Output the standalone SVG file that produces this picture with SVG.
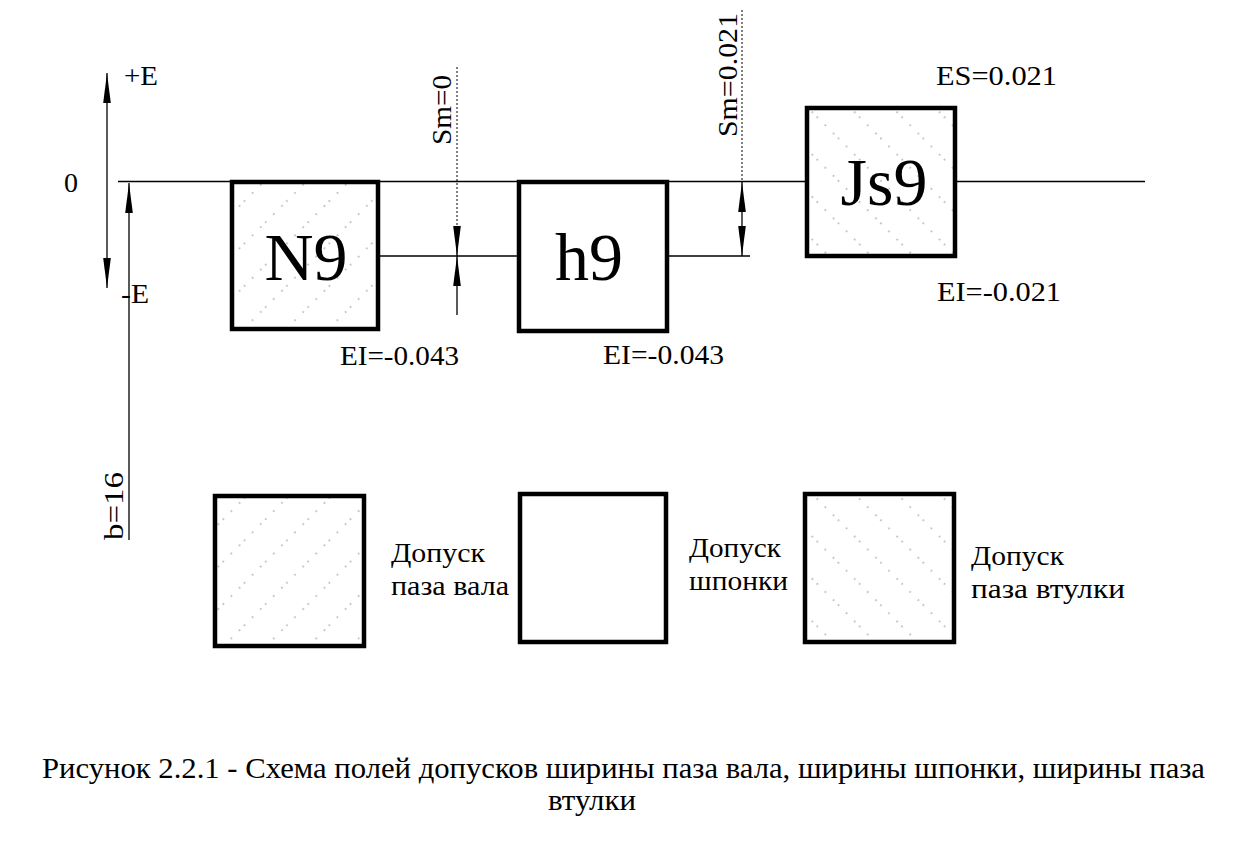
<svg xmlns="http://www.w3.org/2000/svg" width="1236" height="853" viewBox="0 0 1236 853" font-family="'Liberation Serif', 'Times New Roman', serif">
<defs>
<style>
.t{font-family:'Liberation Serif','Times New Roman',serif;fill:#000;font-size:28px}
.big{font-size:68px}
.cap{font-size:30px}
.ln{stroke:#000;stroke-width:1.3;fill:none}
.dot{stroke:#000;stroke-width:1;fill:none;stroke-dasharray:2,2}
.box{stroke:#000;stroke-width:4.5}
</style>
<marker id="arr" viewBox="0 0 30 10" refX="30" refY="5" markerWidth="30" markerHeight="10" orient="auto-start-reverse" markerUnits="userSpaceOnUse">
<path d="M0,1.2 L30,5 L0,8.8 z" fill="#000"/>
</marker>
<pattern id="hatchR" patternUnits="userSpaceOnUse" width="30" height="30" patternTransform="rotate(-45)">
<rect width="30" height="30" fill="#fff"/>
<line x1="0" y1="15" x2="30" y2="15" stroke="#777" stroke-width="1" stroke-dasharray="1.5,10"/>
</pattern>
<pattern id="hatchL" patternUnits="userSpaceOnUse" width="30" height="30" patternTransform="rotate(45)">
<rect width="30" height="30" fill="#fff"/>
<line x1="0" y1="15" x2="30" y2="15" stroke="#777" stroke-width="1" stroke-dasharray="1.5,10"/>
</pattern>
</defs>
<rect width="1236" height="853" fill="#fff"/>

<g id="connectors">
<line class="ln" x1="118" y1="181.5" x2="1145" y2="181.5"/>
<line class="ln" x1="379" y1="256" x2="518" y2="256"/>
<line class="ln" x1="668" y1="256" x2="750" y2="256"/>
<line class="ln" x1="107" y1="73" x2="107" y2="288" marker-start="url(#arr)" marker-end="url(#arr)"/>
<line class="ln" x1="129" y1="540" x2="129" y2="183" marker-end="url(#arr)"/>
<line class="dot" x1="457" y1="67" x2="457" y2="228"/>
<line class="ln" x1="457" y1="226" x2="457" y2="256" marker-end="url(#arr)"/>
<line class="ln" x1="457" y1="315" x2="457" y2="256" marker-end="url(#arr)"/>
<line class="dot" x1="742" y1="10" x2="742" y2="182"/>
<line class="ln" x1="742" y1="182" x2="742" y2="256" marker-start="url(#arr)" marker-end="url(#arr)"/>
</g>

<g id="axis-labels">
<text class="t" x="124" y="85" font-size="24" textLength="34" lengthAdjust="spacingAndGlyphs">+E</text>
<text class="t" x="64" y="192" font-size="25">0</text>
<text class="t" x="121" y="303" font-size="24" textLength="28" lengthAdjust="spacingAndGlyphs">-E</text>
<text class="t" transform="translate(123,540) rotate(-90)" textLength="68" lengthAdjust="spacingAndGlyphs">b=16</text>
<text class="t" transform="translate(451,145) rotate(-90)" textLength="70" lengthAdjust="spacingAndGlyphs">Sm=0</text>
<text class="t" transform="translate(737,137) rotate(-90)" textLength="124" lengthAdjust="spacingAndGlyphs">Sm=0.021</text>
</g>

<g id="N9">
<rect class="box" x="232" y="182" width="146" height="147" fill="url(#hatchR)"/>
<text class="t big" x="306" y="280" text-anchor="middle">N9</text>
<text class="t" x="340" y="365" textLength="119" lengthAdjust="spacingAndGlyphs">EI=-0.043</text>
</g>

<g id="h9">
<rect class="box" x="519" y="182" width="148" height="149" fill="#fff"/>
<text class="t big" x="589" y="280" text-anchor="middle">h9</text>
<text class="t" x="603" y="364" textLength="121" lengthAdjust="spacingAndGlyphs">EI=-0.043</text>
</g>

<g id="Js9">
<rect class="box" x="807" y="108" width="148" height="148" fill="url(#hatchL)"/>
<text class="t big" x="884" y="205" text-anchor="middle">Js9</text>
<text class="t" x="936" y="85" textLength="121" lengthAdjust="spacingAndGlyphs">ES=0.021</text>
<text class="t" x="937" y="301" textLength="124" lengthAdjust="spacingAndGlyphs">EI=-0.021</text>
</g>

<g id="legend-shaft">
<rect class="box" x="215" y="496" width="149" height="150" fill="url(#hatchR)"/>
<text class="t" x="391" y="562" textLength="94" lengthAdjust="spacingAndGlyphs">Допуск</text>
<text class="t" x="391" y="595" textLength="118" lengthAdjust="spacingAndGlyphs">паза вала</text>
</g>

<g id="legend-key">
<rect class="box" x="520" y="494" width="146" height="148" fill="#fff"/>
<text class="t" x="689" y="557" textLength="92" lengthAdjust="spacingAndGlyphs">Допуск</text>
<text class="t" x="689" y="590" textLength="99" lengthAdjust="spacingAndGlyphs">шпонки</text>
</g>

<g id="legend-hub">
<rect class="box" x="805" y="494" width="149" height="148" fill="url(#hatchL)"/>
<text class="t" x="971" y="565" textLength="93" lengthAdjust="spacingAndGlyphs">Допуск</text>
<text class="t" x="971" y="598" textLength="154" lengthAdjust="spacingAndGlyphs">паза втулки</text>
</g>

<g id="caption">
<text class="t cap" x="42" y="778" textLength="1163" lengthAdjust="spacingAndGlyphs">Рисунок 2.2.1 - Схема полей допусков ширины паза вала, ширины шпонки, ширины паза</text>
<text class="t cap" x="548" y="810" textLength="88" lengthAdjust="spacingAndGlyphs">втулки</text>
</g>
</svg>
